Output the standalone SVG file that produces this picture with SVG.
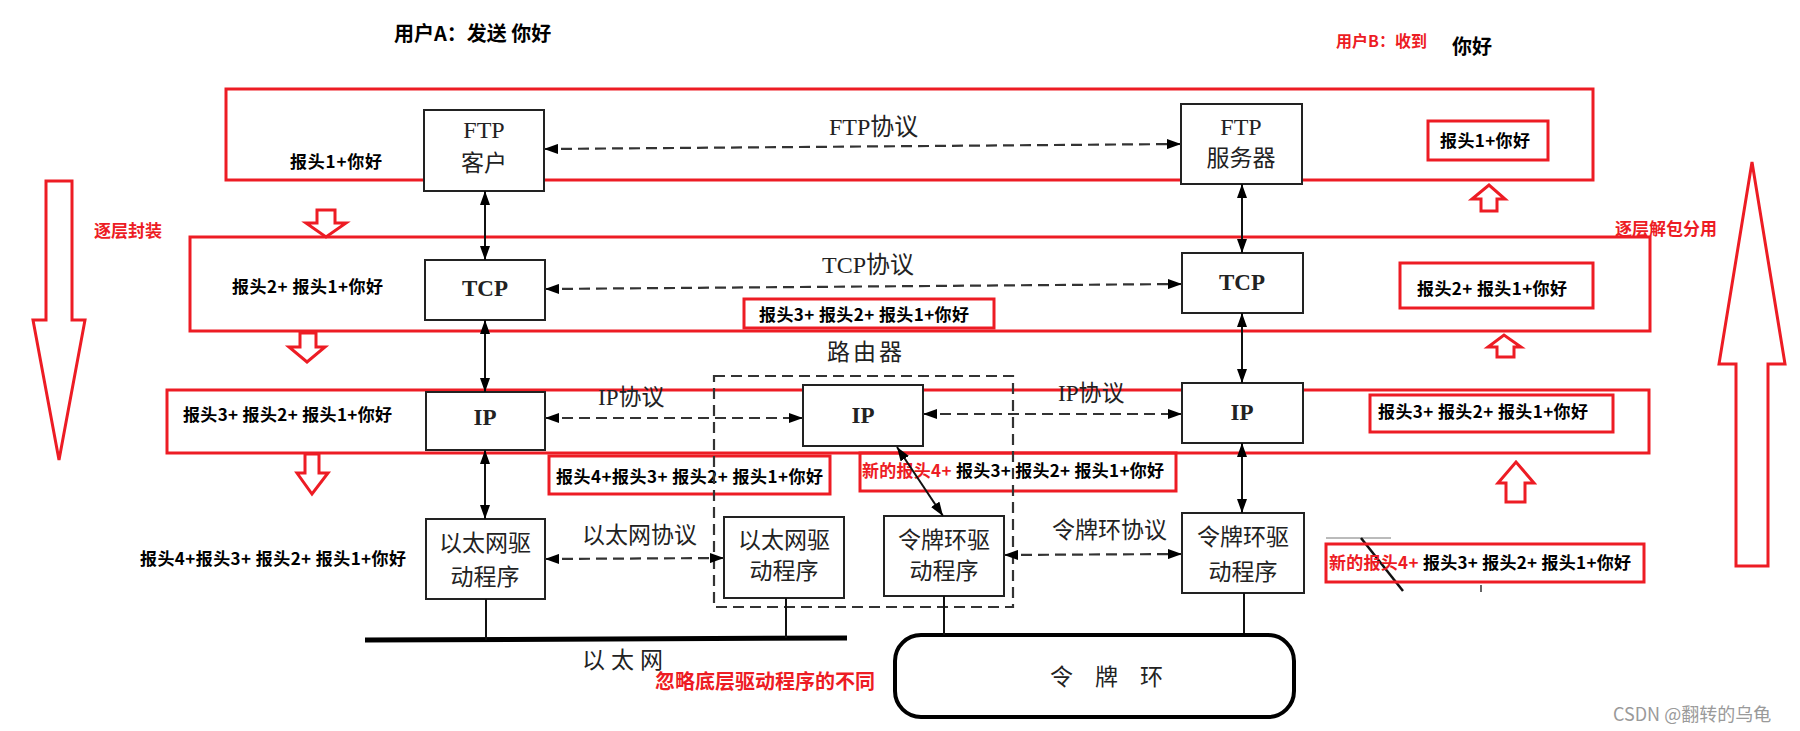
<svg xmlns="http://www.w3.org/2000/svg" width="1800" height="731" viewBox="0 0 1800 731">
<style>
.bg{fill:#fff}
.red{fill:none;stroke:#ED1C24;stroke-width:3}
.hol{fill:#fff;stroke:#ED1C24;stroke-width:3;stroke-linejoin:miter}
.box{fill:#fff;stroke:#222;stroke-width:2}
.dash{fill:none;stroke:#333;stroke-width:2.2;stroke-dasharray:11 6}
.sol{fill:none;stroke:#111;stroke-width:2}
.lbl{font-family:"Noto Sans CJK SC","Liberation Sans",sans-serif;font-weight:bold;font-size:17px;fill:#000;dominant-baseline:central}
.rl{fill:#ED1C24}
.ser{font-family:"Liberation Serif","Noto Sans CJK SC",serif;font-size:23px;fill:#222;dominant-baseline:central;text-anchor:middle}
.serl{font-family:"Liberation Serif","Noto Sans CJK SC",serif;font-size:23px;fill:#222;dominant-baseline:central}
.b{font-weight:bold}
.f24{font-size:24px}
.f20{font-size:20px}
.f16{font-size:16px}
</style>
<defs>
<marker id="ah" markerUnits="userSpaceOnUse" markerWidth="14" markerHeight="10" refX="14" refY="5" orient="auto-start-reverse">
<path d="M0,0 L14,5 L0,10 z" fill="#000"/>
</marker>
</defs>
<rect class="bg" x="0" y="0" width="1800" height="731"/>

<g id="titles">
<text class="lbl f20" x="394" y="32">用户A：发送 你好</text>
<text class="lbl rl f16" x="1336" y="40">用户B：收到</text>
<text class="lbl f20" x="1452" y="45">你好</text>
<text class="lbl rl" x="94" y="229">逐层封装</text>
<text class="lbl rl" x="1615" y="227">逐层解包分用</text>
<text class="lbl rl f20" x="655" y="680">忽略底层驱动程序的不同</text>
</g>

<g id="layer-frames">
<rect class="red" x="226" y="89" width="1367" height="91"/>
<rect class="red" x="190" y="237" width="1460" height="94"/>
<rect class="red" x="167" y="390" width="1482" height="63"/>
</g>

<g id="big-arrows">
<polygon class="hol" points="46,181 72,181 72,320 85,320 59,460 33,320 46,320"/>
<polygon class="hol" points="1736,566 1768,566 1768,364 1785,364 1752,162 1719,364 1736,364"/>
<polygon class="hol" points="317,210 335,210 335,223 346,223 326,237 306,223 317,223"/>
<polygon class="hol" points="300,333 316,333 316,347 325,347 307,362 289,347 300,347"/>
<polygon class="hol" points="305,454 319,454 319,473 328,473 312,494 297,473 305,473"/>
<polygon class="hol" points="1481,211 1497,211 1497,199 1505,199 1489,185 1472,199 1481,199"/>
<polygon class="hol" points="1497,357 1514,357 1514,347 1521,347 1504,335 1488,347 1497,347"/>
<polygon class="hol" points="1506,502 1525,502 1525,483 1534,483 1516,462 1498,483 1506,483"/>
</g>

<g id="packet-labels">
<text class="lbl" x="290" y="160" textLength="92">报头1+你好</text>
<text class="lbl" x="232" y="285" textLength="151">报头2+ 报头1+你好</text>
<text class="lbl" x="183" y="413" textLength="209">报头3+ 报头2+ 报头1+你好</text>
<text class="lbl" x="140" y="557" textLength="266">报头4+报头3+ 报头2+ 报头1+你好</text>
</g>

<g id="packet-boxes">
<rect class="red" x="744" y="299" width="250" height="29"/>
<text class="lbl" x="759" y="313" textLength="210">报头3+ 报头2+ 报头1+你好</text>
<rect class="red" x="549" y="456" width="281" height="38"/>
<text class="lbl" x="556" y="475" textLength="267">报头4+报头3+ 报头2+ 报头1+你好</text>
<rect class="red" x="860" y="453" width="316" height="38"/>
<text class="lbl" x="862" y="469" textLength="302"><tspan class="rl">新的报头4+</tspan> 报头3+ 报头2+ 报头1+你好</text>
<rect class="red" x="1428" y="121" width="120" height="39"/>
<text class="lbl" x="1440" y="139" textLength="90">报头1+你好</text>
<rect class="red" x="1400" y="263" width="193" height="45"/>
<text class="lbl" x="1417" y="287" textLength="150">报头2+ 报头1+你好</text>
<rect class="red" x="1370" y="395" width="243" height="37"/>
<text class="lbl" x="1378" y="410" textLength="210">报头3+ 报头2+ 报头1+你好</text>
</g>

<g id="router-frame">
<rect class="dash" x="714" y="376" width="299" height="231"/>
<text class="ser" x="866" y="352" letter-spacing="3">路由器</text>
</g>

<g id="ftp-client"><rect class="box" x="424" y="110" width="120" height="81"/><text class="ser f24" x="484" y="130">FTP</text><text class="ser" x="484" y="163">客户</text></g>
<g id="ftp-server"><rect class="box" x="1181" y="104" width="121" height="80"/><text class="ser f24" x="1241" y="127">FTP</text><text class="ser" x="1241" y="158">服务器</text></g>
<g id="tcp-a"><rect class="box" x="425" y="260" width="120" height="60"/><text class="ser b" x="485" y="288">TCP</text></g>
<g id="tcp-b"><rect class="box" x="1182" y="253" width="121" height="60"/><text class="ser b" x="1242" y="282">TCP</text></g>
<g id="ip-a"><rect class="box" x="426" y="392" width="119" height="58"/><text class="ser b" x="485" y="417">IP</text></g>
<g id="ip-router"><rect class="box" x="803" y="385" width="120" height="61"/><text class="ser b" x="863" y="415">IP</text></g>
<g id="ip-b"><rect class="box" x="1182" y="383" width="121" height="60"/><text class="ser b" x="1242" y="412">IP</text></g>
<g id="eth-a"><rect class="box" x="426" y="519" width="119" height="80"/><text class="ser" x="485" y="543">以太网驱</text><text class="ser" x="485" y="577">动程序</text></g>
<g id="eth-router"><rect class="box" x="724" y="517" width="120" height="81"/><text class="ser" x="784" y="540">以太网驱</text><text class="ser" x="784" y="571">动程序</text></g>
<g id="tr-router"><rect class="box" x="884" y="516" width="120" height="80"/><text class="ser" x="944" y="540">令牌环驱</text><text class="ser" x="944" y="571">动程序</text></g>
<g id="tr-b"><rect class="box" x="1182" y="513" width="122" height="80"/><text class="ser" x="1243" y="537">令牌环驱</text><text class="ser" x="1243" y="572">动程序</text></g>

<g id="ethernet">
<line x1="365" y1="640" x2="847" y2="638" stroke="#000" stroke-width="5"/>
<text class="serl" x="582" y="660" letter-spacing="6">以太网</text>
</g>
<g id="token-ring">
<rect x="895" y="635" width="399" height="82" rx="26" ry="26" fill="#fff" stroke="#000" stroke-width="4"/>
<text class="serl" x="1050" y="677" letter-spacing="22">令牌环</text>
</g>

<g id="connectors">
<line class="dash" x1="544" y1="149" x2="1181" y2="144" marker-start="url(#ah)" marker-end="url(#ah)"/>
<line class="dash" x1="545" y1="289" x2="1182" y2="284" marker-start="url(#ah)" marker-end="url(#ah)"/>
<line class="dash" x1="545" y1="418" x2="803" y2="418" marker-start="url(#ah)" marker-end="url(#ah)"/>
<line class="dash" x1="923" y1="414" x2="1182" y2="414" marker-start="url(#ah)" marker-end="url(#ah)"/>
<line class="dash" x1="545" y1="559" x2="724" y2="558" marker-start="url(#ah)" marker-end="url(#ah)"/>
<line class="dash" x1="1004" y1="555" x2="1182" y2="554" marker-start="url(#ah)" marker-end="url(#ah)"/>
<line class="sol" x1="485" y1="191" x2="485" y2="260" marker-start="url(#ah)" marker-end="url(#ah)"/>
<line class="sol" x1="485" y1="320" x2="485" y2="392" marker-start="url(#ah)" marker-end="url(#ah)"/>
<line class="sol" x1="485" y1="450" x2="485" y2="519" marker-start="url(#ah)" marker-end="url(#ah)"/>
<line class="sol" x1="1242" y1="184" x2="1242" y2="253" marker-start="url(#ah)" marker-end="url(#ah)"/>
<line class="sol" x1="1242" y1="313" x2="1242" y2="383" marker-start="url(#ah)" marker-end="url(#ah)"/>
<line class="sol" x1="1242" y1="443" x2="1242" y2="513" marker-start="url(#ah)" marker-end="url(#ah)"/>
<line class="sol" x1="897" y1="447" x2="943" y2="516" marker-start="url(#ah)" marker-end="url(#ah)"/>
<line class="sol" x1="486" y1="599" x2="486" y2="640"/>
<line class="sol" x1="786" y1="598" x2="786" y2="638"/>
<line class="sol" x1="944" y1="596" x2="944" y2="635"/>
<line class="sol" x1="1244" y1="593" x2="1244" y2="633"/>
</g>

<g id="protocol-labels">
<text class="serl f24" x="829" y="127">FTP协议</text>
<text class="serl f24" x="822" y="265">TCP协议</text>
<text class="serl" x="598" y="397">IP协议</text>
<text class="serl" x="1058" y="393">IP协议</text>
<text class="serl" x="582" y="535">以太网协议</text>
<text class="serl" x="1052" y="530">令牌环协议</text>
</g>

<g id="fragments">
<line x1="1326" y1="538" x2="1391" y2="538" stroke="#777" stroke-width="1"/>
<line x1="1361" y1="538" x2="1403" y2="591" stroke="#111" stroke-width="2.5"/>
<line x1="1481" y1="585" x2="1481" y2="592" stroke="#333" stroke-width="1.5"/>
</g>
<g id="right-hop">
<rect class="red" x="1326" y="544" width="318" height="38"/>
<text class="lbl" x="1329" y="561" textLength="302"><tspan class="rl">新的报头4+</tspan> 报头3+ 报头2+ 报头1+你好</text>
</g>

<text x="1613" y="713" font-family="Noto Sans CJK SC, Liberation Sans, sans-serif" font-size="18" fill="#9a9a9a" dominant-baseline="central">CSDN @翻转的乌龟</text>
</svg>
